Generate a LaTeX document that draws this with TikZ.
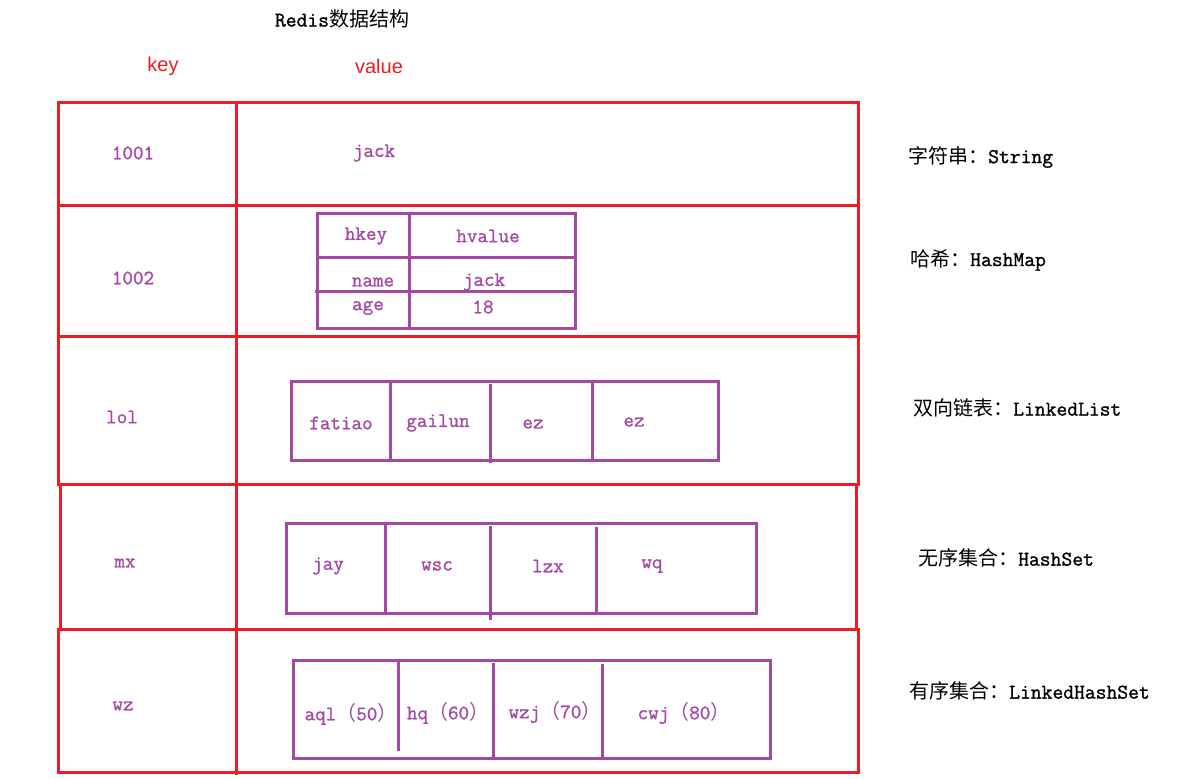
\documentclass[tikz,border=0pt]{standalone}
\usepackage{fontspec}
\setmainfont{Liberation Serif}
\setsansfont{Liberation Sans}
\newfontfamily\mono{Latin Modern Mono}[FakeBold=1.2]
\newfontfamily\cjk{Noto Sans CJK SC}
\definecolor{gridred}{RGB}{237,28,36}
\definecolor{lilac}{RGB}{163,73,164}
\tikzset{
  redline/.style={draw=gridred,line width=3},
  purpline/.style={draw=lilac,line width=3},
  vtxt/.style={text=lilac,font=\mono\fontsize{20.5}{22}\selectfont,inner sep=0pt},
  hdr/.style={text=gridred,font=\sffamily\fontsize{20}{22}\selectfont,inner sep=0pt},
  lbl/.style={text=black,font=\mono\fontsize{21}{22}\selectfont,inner sep=0pt,anchor=west},
}
\newcommand{\cj}[1]{{\cjk\fontsize{20}{21}\selectfont #1}}
\begin{document}
\begin{tikzpicture}[x=1pt,y=-1pt]
\useasboundingbox (0,0) rectangle (1179,779);
% title and headers
\node[lbl,anchor=center] (title) at (342,19) {Redis\cj{数据结构}};
\node[hdr] (hkeyhdr) at (163,66) {key};
\node[hdr] (hvalhdr) at (379,66) {value};
% red grid rows
\draw[redline] (58,102) rectangle (858,205);
\draw[redline] (58,205) rectangle (858,336);
\draw[redline] (58,336) rectangle (858,484);
\draw[redline] (60,484) rectangle (856,629);
\draw[redline] (58,629) rectangle (858,772);
\draw[redline] (236,102) -- (236,775);
% keys
\node[vtxt] (k1) at (133,153) {1001};
\node[vtxt] (k2) at (133,278) {1002};
\node[vtxt] (k3) at (122,417) {lol};
\node[vtxt] (k4) at (125,563) {mx};
\node[vtxt] (k5) at (123,706) {wz};
% string value
\node[vtxt] (v1) at (374,153) {jack};
% hash table
\draw[purpline] (317,213) rectangle (575,328);
\draw[purpline] (409,213) -- (409,328);
\draw[purpline] (317,257) -- (575,257);
\draw[purpline] (315,291) -- (577,291);
\node[vtxt] (h1) at (366,236) {hkey};
\node[vtxt] (h2) at (488,236) {hvalue};
\node[vtxt] (h3) at (373,282) {name};
\node[vtxt] (h4) at (484,282) {jack};
\node[vtxt] (h5) at (368,308) {age};
\node[vtxt] (h6) at (483,307) {18};
% linked list
\draw[purpline] (291,381) rectangle (718,460);
\draw[purpline] (390,381) -- (390,460);
\draw[purpline] (490,384) -- (490,463);
\draw[purpline] (592,381) -- (592,460);
\node[vtxt] (l1) at (341,423) {fatiao};
\node[vtxt] (l2) at (438,423) {gailun};
\node[vtxt] (l3) at (533,424) {ez};
\node[vtxt] (l4) at (634,422) {ez};
% hash set
\draw[purpline] (286,523) rectangle (756,613);
\draw[purpline] (385,523) -- (385,613);
\draw[purpline] (490,526) -- (490,620);
\draw[purpline] (596,527) -- (596,613);
\node[vtxt] (s1) at (328,566) {jay};
\node[vtxt] (s2) at (437,566) {wsc};
\node[vtxt] (s3) at (548,566) {lzx};
\node[vtxt] (s4) at (652,566) {wq};
% sorted set
\draw[purpline] (293,660) rectangle (770,758);
\draw[purpline] (398,662) -- (398,751);
\draw[purpline] (493,663) -- (493,758);
\draw[purpline] (602,664) -- (602,758);
\node[vtxt] (z1) at (351,714) {aql\cj{（}50\cj{）}};
\node[vtxt] (z2) at (448,713) {hq\cj{（}60\cj{）}};
\node[vtxt] (z3) at (555,712) {wzj\cj{（}70\cj{）}};
\node[vtxt] (z4) at (684,713) {cwj\cj{（}80\cj{）}};
% right labels
\node[lbl] (r1) at (908,157) {\cj{字符串：}String};
\node[lbl] (r2) at (910,260) {\cj{哈希：}HashMap};
\node[lbl] (r3) at (913,408) {\cj{双向链表：}LinkedList};
\node[lbl] (r4) at (918,558) {\cj{无序集合：}HashSet};
\node[lbl] (r5) at (909,691) {\cj{有序集合：}LinkedHashSet};
\end{tikzpicture}
\end{document}
